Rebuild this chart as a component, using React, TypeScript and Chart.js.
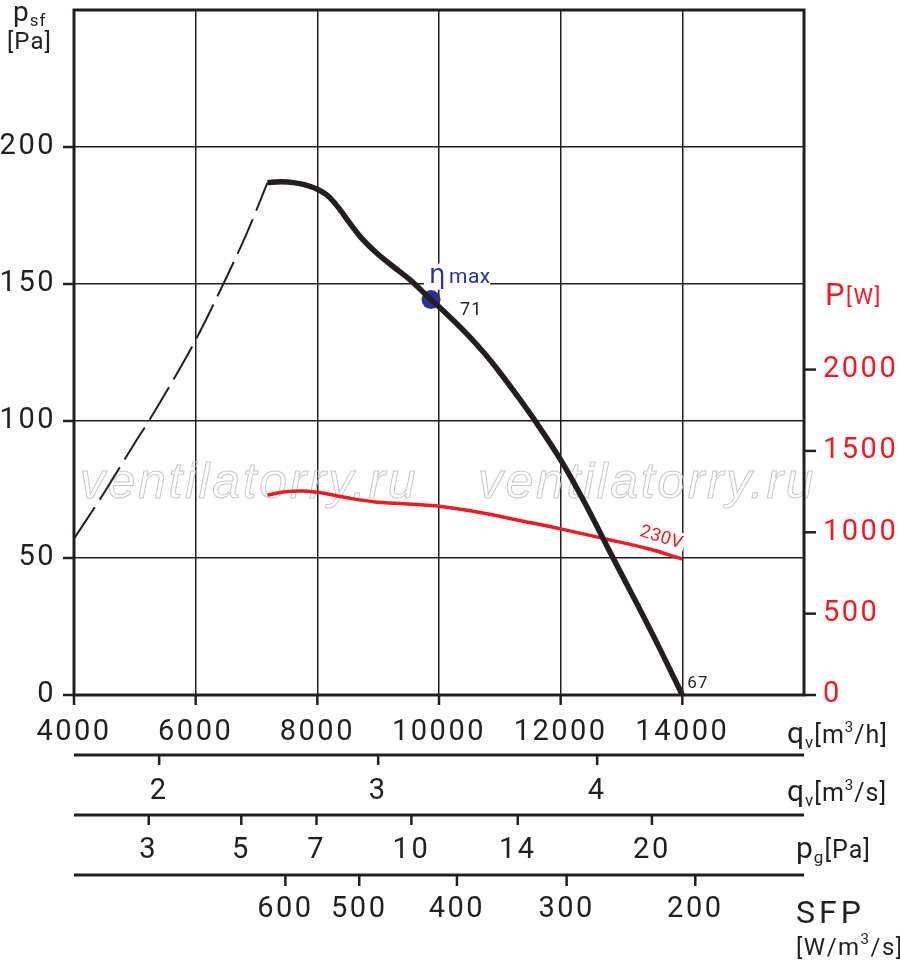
import React, { useEffect, useRef } from "react";
import { Chart, registerables } from "chart.js";

Chart.register(...registerables);

// ---------------- data ----------------
// unstable (dashed) part of the fan curve: q [m3/h], psf [Pa]
const unstableQ = [4000, 4500, 5000, 5230, 5500, 6000, 6454, 6850, 7180];
const unstableP = [57, 74, 92, 100, 110, 129.6, 150, 169, 187];

// fan curve (solid)
const fanQ = [7180, 7400, 7612, 7800, 8000, 8150, 8268, 8400, 8500, 8705, 8979, 9251, 9525, 9869, 10000, 10250, 10500, 10750, 11000, 11300, 11600, 12000, 12400, 12850, 13200, 13600, 14000];
const fanP = [187, 187.3, 187, 186.2, 184.6, 182.6, 180, 176.3, 173.2, 167.3, 161.2, 156.3, 151.5, 144.3, 141.7, 136.4, 130.8, 124.6, 117.7, 108.8, 99.4, 85.8, 70, 50.5, 35.6, 18.2, 0];

// power curve 230V: q [m3/h], P [W]
const powerQ = [7180, 7450, 7720, 8000, 8270, 8540, 8920, 9500, 10000, 10720, 11280, 12000, 12740, 13460, 14000];
const powerW = [1229, 1248, 1254, 1246, 1228, 1209, 1188, 1174, 1160, 1119, 1076, 1021, 959, 897, 836];

// efficiency max point
const etaQ = 9869;
const etaP = 144.3;
const etaText = "71";
const endText = "67";
const voltageText = "230V";
const watermark = "ventilatorry.ru";

// axes
const range = (a: number, b: number, s: number) => { const r: number[] = []; for (let v = a; v <= b + 1e-9; v += s) r.push(v); return r; };
const qhTicks = range(4000, 16000, 500);
const qhLabels = [4000, 6000, 8000, 10000, 12000, 14000];
const psfTicks = range(0, 250, 10);
const psfLabels = [0, 50, 100, 150, 200];
const powerTicks = range(0, 2000, 100);
const powerLabels = [0, 500, 1000, 1500, 2000];
const QH_MIN = 4000;
const QH_MAX = 16000;
const PSF_MAX = 250;
const POWER_MAX = 4210;

const qsTicks = [2, 2.5, 3, 3.5, 4, 4.5];
const qsLabels = [2, 3, 4];
const QS_SHIFT = 0.5; // printed m3/s scale offset relative to the m3/h scale

const pgTicks = [2, 3, 4, 5, 6, 7, 8, 9, 10, 12, 14, 16, 18, 20, 22, 24, 26, 28];
const pgLabels = [3, 5, 7, 10, 14, 20];
const PG_REF = 20;      // pg = 20 Pa ...
const PG_REF_Q = 13500; // ... at 13500 m3/h, pg ~ q^2

const sfpTicks = [600, 550, 500, 480, 460, 440, 420, 400, 380, 360, 340, 320, 300, 280, 260, 240, 220, 200];
const sfpTickQ = [7475, 8098, 8689, 8951, 9246, 9574, 9918, 10295, 10656, 11033, 11377, 11738, 12098, 12492, 12934, 13443, 13902, 14213];
const sfpLabels = [600, 500, 400, 300, 200];

// ---------------- styling ----------------
const INK = "#231f20";
const RED = "#ed1c24";
const BLUE = "#2e3192";
const FAM = "Roboto";
const tickFont = { family: FAM, size: 29, weight: "normal" as any, lineHeight: 1 };
const SPACING = "2.5px";

function line(ctx: CanvasRenderingContext2D, x1: number, y1: number, x2: number, y2: number) {
  ctx.beginPath();
  ctx.moveTo(x1, y1);
  ctx.lineTo(x2, y2);
  ctx.stroke();
}

function runs(ctx: any, x: number, y: number, parts: [string, number, number][], color: string, spacing = "1px") {
  ctx.save();
  ctx.fillStyle = color;
  ctx.textAlign = "left";
  ctx.textBaseline = "alphabetic";
  ctx.letterSpacing = spacing;
  for (const [t, size, dy] of parts) {
    ctx.font = `normal ${size}px ${FAM}`;
    ctx.fillText(t, x, y + dy);
    x += ctx.measureText(t).width;
  }
  ctx.restore();
}

const spacingPlugin = {
  id: "spacing",
  beforeUpdate(c: any) { c.ctx.letterSpacing = SPACING; },
  beforeLayout(c: any) { c.ctx.letterSpacing = SPACING; },
  beforeDraw(c: any) { c.ctx.letterSpacing = SPACING; },
};

const noPadV = (w: number) => (sc: any) => { sc.width = w; sc.paddingTop = 0; sc.paddingBottom = 0; };
const noPadH = (h: number) => (sc: any) => { sc.height = h; sc.paddingLeft = 0; sc.paddingRight = 0; };

const decorPlugin = {
  id: "decor",
  beforeDatasetsDraw(chart: any) {
    const ctx = chart.ctx;
    const s = chart.scales;
    ctx.save();
    // watermark
    ctx.letterSpacing = "2.6px";
    ctx.font = 'italic 50px "Liberation Sans"';
    ctx.strokeStyle = "#c8c8c8";
    ctx.lineWidth = 1;
    ctx.strokeText(watermark, 80, 498);
    ctx.strokeText(watermark, 478, 498);
    // white backings for labels
    ctx.fillStyle = "#fff";
    const px = s.x.getPixelForValue(etaQ);
    const py = s.y.getPixelForValue(etaP);
    ctx.fillRect(px - 7, py - 36, 66, 26);
    const vx = s.x.getPixelForValue(powerQ[powerQ.length - 1]);
    const vy = s.y2.getPixelForValue(powerW[powerW.length - 1]);
    ctx.translate(vx - 21, vy - 21);
    ctx.rotate(0.3);
    ctx.fillRect(-24, -11, 48, 20);
    ctx.restore();
  },
  afterDatasetsDraw(chart: any) {
    const ctx = chart.ctx;
    const s = chart.scales;
    const a = chart.chartArea;
    ctx.save();
    ctx.strokeStyle = INK;
    ctx.lineCap = "butt";
    ctx.lineWidth = 2.5;
    // tick marks
    s.x.ticks.forEach((t: any) => {
      const p = s.x.getPixelForValue(t.value);
      const len = t.value % 2000 === 0 ? 10 : 6;
      line(ctx, p, a.bottom, p, a.bottom + len);
    });
    s.y.ticks.forEach((t: any) => {
      const p = s.y.getPixelForValue(t.value);
      const len = t.value % 50 === 0 ? 11 : 7;
      line(ctx, a.left - len, p, a.left, p);
    });
    s.y2.ticks.forEach((t: any) => {
      const p = s.y2.getPixelForValue(t.value);
      const len = t.value % 500 === 0 ? 12 : 7;
      line(ctx, a.right, p, a.right + len, p);
    });
    [s.x2, s.x3].forEach((sc: any) => {
      sc.ticks.forEach((t: any) => {
        const p = sc.getPixelForValue(t.value);
        line(ctx, p, sc.top, p, sc.top + 10);
      });
    });
    s.x4.ticks.forEach((t: any) => {
      const p = s.x4.getPixelForValue(t.value);
      const len = t.sfp % 100 === 0 ? 11 : 6;
      line(ctx, p, s.x4.top, p, s.x4.top + len);
    });
    // axis lines + frame
    ctx.lineWidth = 3;
    [s.x2, s.x3, s.x4].forEach((sc: any) => line(ctx, a.left, sc.top, a.right, sc.top));
    ctx.strokeRect(a.left, a.top, a.right - a.left, a.bottom - a.top);

    // point labels
    const px = s.x.getPixelForValue(etaQ);
    const py = s.y.getPixelForValue(etaP);
    ctx.fillStyle = BLUE;
    ctx.letterSpacing = "0px";
    ctx.font = '26px "DejaVu Sans"';
    ctx.textAlign = "left";
    ctx.textBaseline = "alphabetic";
    ctx.fillText("η", px - 2, py - 17);
    runs(ctx, px + 18, py - 17, [["max", 21, 0]], BLUE, "0.5px");
    runs(ctx, px + 29, py + 15, [[etaText, 18, 0]], INK, "1px");
    const ex = s.x.getPixelForValue(fanQ[fanQ.length - 1]);
    const ey = s.y.getPixelForValue(fanP[fanP.length - 1]);
    runs(ctx, ex + 5, ey - 7, [[endText, 17, 0]], INK, "1px");
    const vx = s.x.getPixelForValue(powerQ[powerQ.length - 1]);
    const vy = s.y2.getPixelForValue(powerW[powerW.length - 1]);
    ctx.save();
    ctx.translate(vx - 21, vy - 21);
    ctx.rotate(0.3);
    ctx.fillStyle = RED;
    ctx.font = `18px ${FAM}`;
    ctx.letterSpacing = "0.5px";
    ctx.textAlign = "center";
    ctx.textBaseline = "middle";
    ctx.fillText(voltageText, 0, 0);
    ctx.restore();

    // axis titles
    runs(ctx, 13, 21, [["p", 28, 0], ["sf", 17, 5]], INK, "1px");
    runs(ctx, 7, 49, [["[Pa]", 24, 0]], INK, "1px");
    runs(ctx, 825, s.y2.getPixelForValue(2000) - 65, [["P", 31, 0], ["[W]", 22, -1]], RED, "1.5px");
    const tx = a.right - 17;
    runs(ctx, tx, s.x.top + 48, [["q", 30, 0], ["v", 17, 5], ["[m", 25, 0], ["3", 15, -11], ["/h]", 25, 0]], INK, "1px");
    runs(ctx, tx, s.x2.top + 46, [["q", 30, 0], ["v", 17, 5], ["[m", 25, 0], ["3", 15, -11], ["/s]", 25, 0]], INK, "1px");
    runs(ctx, tx + 9, s.x3.top + 43, [["p", 30, 0], ["g", 17, 5], ["[Pa]", 25, 0]], INK, "1px");
    runs(ctx, tx + 9, s.x4.top + 48, [["SFP", 32, 0]], INK, "4px");
    runs(ctx, tx + 9, s.x4.top + 80, [["[W/m", 24, 0], ["3", 15, -11], ["/s]", 24, 0]], INK, "1.5px");
    ctx.restore();
  },
};

const hidden = "rgba(0,0,0,0)";

export default function App() {
  const ref = useRef<HTMLCanvasElement>(null);
  useEffect(() => {
    document.body.style.margin = "0";
    const canvas = ref.current!;
    const chart = new Chart(canvas, {
      type: "line",
      data: {
        datasets: [
          {
            label: "unstable",
            data: unstableQ.map((q, i) => ({ x: q, y: unstableP[i] })),
            borderColor: INK,
            borderWidth: 2,
            borderDash: [38, 9],
            pointRadius: 0,
            cubicInterpolationMode: "monotone",
            xAxisID: "x",
            yAxisID: "y",
          },
          {
            label: "fan",
            data: fanQ.map((q, i) => ({ x: q, y: fanP[i] })),
            borderColor: INK,
            borderWidth: 5.5,
            pointRadius: 0,
            cubicInterpolationMode: "monotone",
            xAxisID: "x",
            yAxisID: "y",
          },
          {
            label: "power",
            data: powerQ.map((q, i) => ({ x: q, y: powerW[i] })),
            borderColor: RED,
            borderWidth: 3.5,
            pointRadius: 0,
            cubicInterpolationMode: "monotone",
            xAxisID: "x",
            yAxisID: "y2",
          },
          {
            label: "eta",
            data: [{ x: etaQ, y: etaP }],
            showLine: false,
            pointRadius: 9.5,
            pointBackgroundColor: BLUE,
            pointBorderWidth: 0,
            xAxisID: "x",
            yAxisID: "y",
          },
        ] as any,
      },
      options: {
        animation: false,
        responsive: true,
        maintainAspectRatio: false,
        layout: { padding: { top: 10, left: 0, right: 0, bottom: 0 } },
        plugins: { legend: { display: false }, tooltip: { enabled: false } },
        scales: {
          x: {
            type: "linear",
            position: "bottom",
            weight: 0,
            min: QH_MIN,
            max: QH_MAX,
            afterBuildTicks: (sc: any) => { sc.ticks = qhTicks.map((v) => ({ value: v })); },
            afterFit: noPadH(60),
            ticks: {
              autoSkip: false, maxRotation: 0, minRotation: 0, padding: 23, color: INK, font: tickFont,
              callback: (v: any) => (qhLabels.includes(v) ? String(v) : null),
            },
            grid: {
              color: (c: any) => { const v = c.tick?.value; return v !== undefined && v % 2000 === 0 && v > QH_MIN && v < QH_MAX ? INK : hidden; },
              lineWidth: 1.5,
              drawTicks: false,
            },
            border: { display: false },
          },
          x2: {
            type: "linear",
            position: "bottom",
            weight: 1,
            min: QH_MIN / 3600 + QS_SHIFT,
            max: QH_MAX / 3600 + QS_SHIFT,
            afterBuildTicks: (sc: any) => { sc.ticks = qsTicks.map((v) => ({ value: v })); },
            afterFit: noPadH(60),
            ticks: {
              autoSkip: false, maxRotation: 0, minRotation: 0, padding: 22, color: INK, font: tickFont,
              callback: (v: any) => (qsLabels.includes(v) ? String(v) : null),
            },
            grid: { display: false, drawTicks: false },
            border: { display: false },
          },
          x3: {
            type: "linear",
            position: "bottom",
            weight: 2,
            min: QH_MIN,
            max: QH_MAX,
            afterBuildTicks: (sc: any) => {
              sc.ticks = pgTicks.map((pg) => ({ value: PG_REF_Q * Math.sqrt(pg / PG_REF), pg }));
            },
            afterFit: noPadH(60),
            ticks: {
              autoSkip: false, maxRotation: 0, minRotation: 0, padding: 21.5, color: INK, font: tickFont,
              callback: (_v: any, i: number, t: any[]) => (pgLabels.includes(t[i].pg) ? String(t[i].pg) : null),
            },
            grid: { display: false, drawTicks: false },
            border: { display: false },
          },
          x4: {
            type: "linear",
            position: "bottom",
            weight: 3,
            min: QH_MIN,
            max: QH_MAX,
            afterBuildTicks: (sc: any) => {
              sc.ticks = sfpTicks.map((sfp, i) => ({ value: sfpTickQ[i], sfp }));
            },
            afterFit: noPadH(92),
            ticks: {
              autoSkip: false, maxRotation: 0, minRotation: 0, padding: 20.5, color: INK, font: tickFont,
              callback: (_v: any, i: number, t: any[]) => (sfpLabels.includes(t[i].sfp) ? String(t[i].sfp) : null),
            },
            grid: { display: false, drawTicks: false },
            border: { display: false },
          },
          y: {
            type: "linear",
            position: "left",
            min: 0,
            max: PSF_MAX,
            afterBuildTicks: (sc: any) => { sc.ticks = psfTicks.map((v) => ({ value: v })); },
            afterFit: noPadV(74),
            ticks: {
              autoSkip: false, padding: 18, color: INK, font: tickFont,
              callback: (v: any) => (psfLabels.includes(v) ? String(v) : null),
            },
            grid: {
              color: (c: any) => { const v = c.tick?.value; return v !== undefined && v % 50 === 0 && v > 0 && v < PSF_MAX ? INK : hidden; },
              lineWidth: 1.5,
              drawTicks: false,
            },
            border: { display: false },
          },
          y2: {
            type: "linear",
            position: "right",
            min: 0,
            max: POWER_MAX,
            afterBuildTicks: (sc: any) => { sc.ticks = powerTicks.map((v) => ({ value: v })); },
            afterFit: noPadV(96),
            ticks: {
              autoSkip: false, padding: 19, color: RED, font: tickFont,
              callback: (v: any) => (powerLabels.includes(v) ? String(v) : null),
            },
            grid: { display: false, drawTicks: false },
            border: { display: false },
          },
        } as any,
      },
      plugins: [spacingPlugin, decorPlugin],
    });
    return () => chart.destroy();
  }, []);
  return (
    <div style={{ position: "absolute", left: 0, top: 0, width: 900, height: 967, background: "#fff" }}>
      <canvas ref={ref} />
    </div>
  );
}
